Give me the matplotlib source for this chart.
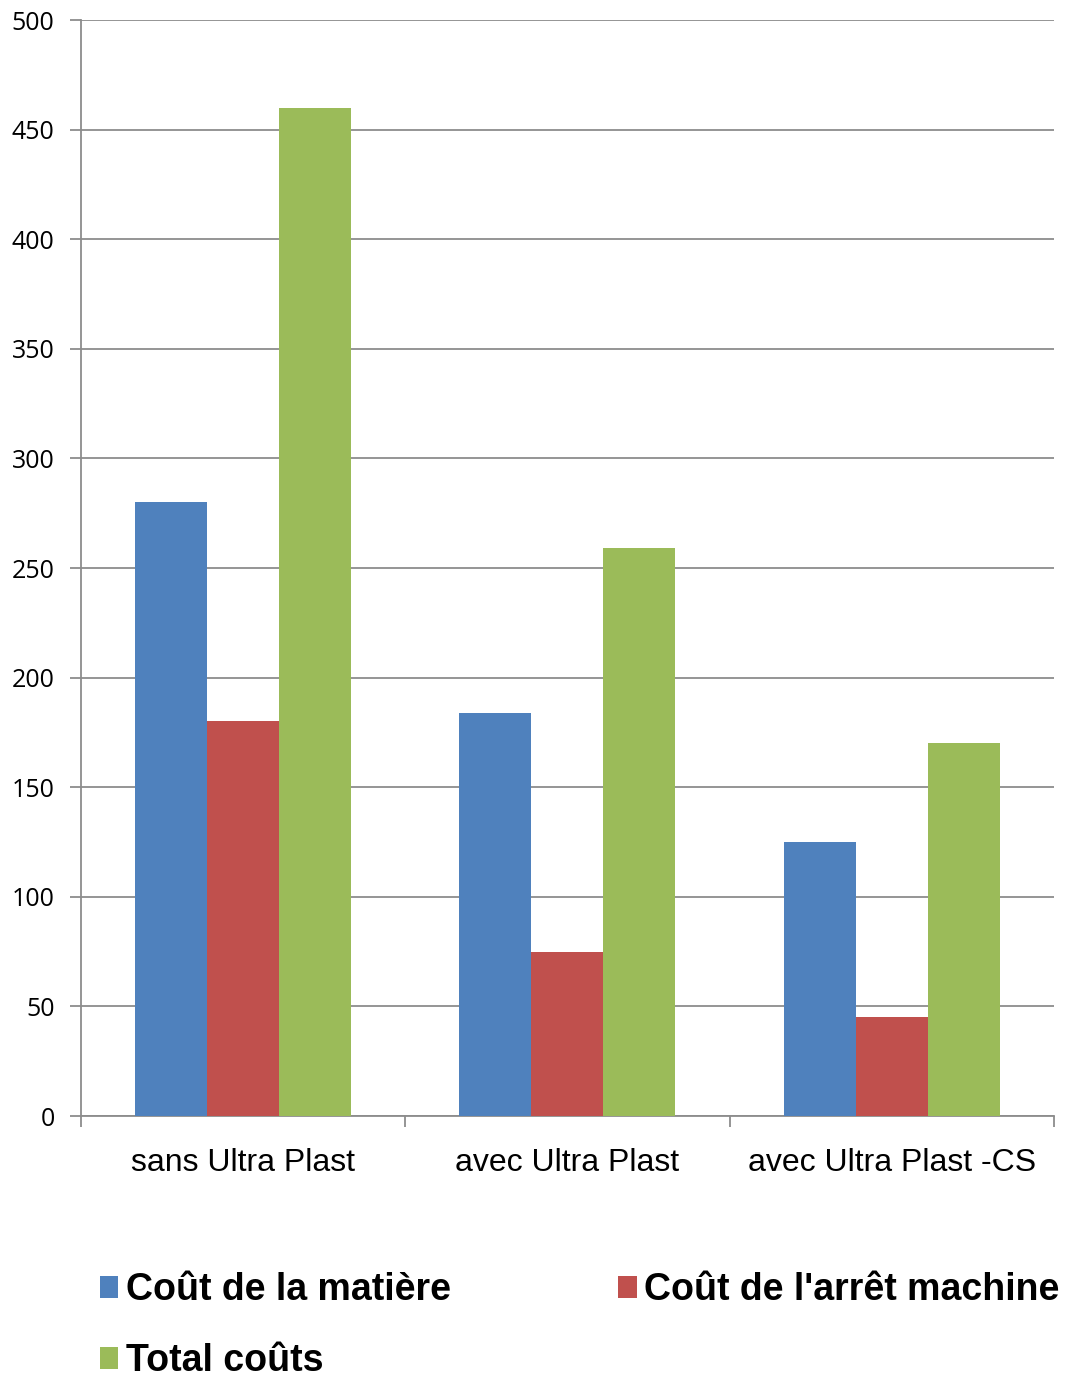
import numpy as np
import matplotlib.pyplot as plt
from matplotlib.ticker import FixedLocator

categories = ["sans Ultra Plast", "avec Ultra Plast", "avec Ultra Plast -CS"]
cout_matiere = [280, 184, 125]
cout_arret = [180, 75, 45]
total_couts = [460, 259, 170]

series_names = ["Coût de la matière", "Coût de l'arrêt machine", "Total coûts"]
colors = ["#4F81BD", "#C0504D", "#9BBB59"]
grey = "#8C8C8C"

fig = plt.figure(figsize=(10.71, 13.8), dpi=100)
ax = fig.add_axes([0.0756, 0.1913, 0.9085, 0.7942])

x = np.arange(len(categories))
w = 0.222
bars = []
for i, vals in enumerate([cout_matiere, cout_arret, total_couts]):
    b = ax.bar(x + (i - 1) * w, vals, width=w, color=colors[i],
               label=series_names[i], zorder=3)
    bars.append(b)

ax.set_xlim(-0.5, len(categories) - 0.5)
ax.set_ylim(0, 500)
ax.set_yticks(np.arange(0, 501, 50))
ax.yaxis.grid(True, color=grey, linewidth=1.3, zorder=0)

ax.xaxis.set_major_locator(FixedLocator(np.arange(-0.5, len(categories), 1)))
ax.xaxis.set_minor_locator(FixedLocator(x))
ax.set_xticklabels([])
ax.set_xticklabels(categories, minor=True, fontsize=23, family="Liberation Sans")
ax.tick_params(axis="x", which="major", length=8, width=1.3, color=grey)
ax.tick_params(axis="x", which="minor", length=0, pad=23)
ax.tick_params(axis="y", length=8, width=1.3, color=grey, pad=11, labelsize=18)
for t in ax.get_yticklabels():
    t.set_family("Open Sans")

for side in ["top", "right"]:
    ax.spines[side].set_visible(False)
for side in ["left", "bottom"]:
    ax.spines[side].set_color(grey)
    ax.spines[side].set_linewidth(1.3)

# legend is filled column by column, so reorder to get the rows right
order = [0, 2, 1]
fig.legend(handles=[bars[k] for k in order],
           labels=[series_names[k] for k in order], ncol=2,
           loc="upper left", bbox_to_anchor=(0.093, 0.078),
           frameon=False,
           prop={"family": "Liberation Sans", "weight": "bold", "size": 27},
           handlelength=0.5, handleheight=0.5, handletextpad=0.2,
           columnspacing=4.46, labelspacing=0.93, borderpad=0, borderaxespad=0)

fig.savefig("out.png", dpi=100)
